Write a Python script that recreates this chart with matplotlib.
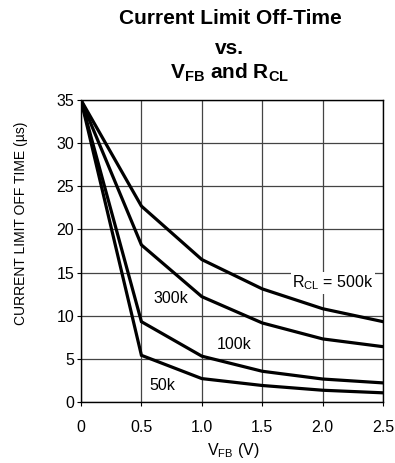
import matplotlib.pyplot as plt

plt.rcParams['font.family'] = ['Liberation Sans', 'DejaVu Sans']
plt.rcParams['mathtext.fontset'] = 'custom'
plt.rcParams['mathtext.rm'] = 'Liberation Sans'
plt.rcParams['mathtext.bf'] = 'Liberation Sans:bold'

# data
vfb = [0, 0.5, 1.0, 1.5, 2.0, 2.5]
t_500k = [35, 22.7, 16.5, 13.1, 10.8, 9.3]
t_300k = [35, 18.2, 12.2, 9.15, 7.3, 6.4]
t_100k = [35, 9.3, 5.3, 3.55, 2.65, 2.2]
t_50k = [35, 5.4, 2.7, 1.9, 1.35, 1.05]

xticks = [0, 0.5, 1.0, 1.5, 2.0, 2.5]
xticklabels = ['0', '0.5', '1.0', '1.5', '2.0', '2.5']
yticks = [0, 5, 10, 15, 20, 25, 30, 35]

fig = plt.figure(figsize=(3.95, 4.63), dpi=100)
ax = fig.add_axes([0.205, 0.132, 0.765, 0.652])

for t in [t_500k, t_300k, t_100k, t_50k]:
    ax.plot(vfb, t, color='black', linewidth=2.3, solid_joinstyle='miter', zorder=3)

ax.set_xlim(0, 2.5)
ax.set_ylim(0, 35)
ax.set_xticks(xticks)
ax.set_xticklabels(xticklabels)
ax.set_yticks(yticks)
ax.tick_params(labelsize=11.5, length=3, width=0.8, direction='out')
ax.tick_params(axis='x', pad=10)
ax.tick_params(axis='y', pad=2)
ax.grid(True, color='#444444', linewidth=0.9)
for s in ax.spines.values():
    s.set_linewidth(1.0)

ax.text(1.75, 13.8, r'R$_{\mathregular{CL}}$ = 500k', fontsize=11.5, ha='left', va='center',
        bbox=dict(facecolor='white', edgecolor='none', pad=1), zorder=4)
ax.text(0.6, 12.0, '300k', fontsize=11.5, ha='left', va='center')
ax.text(1.125, 6.7, '100k', fontsize=11.5, ha='left', va='center')
ax.text(0.57, 1.85, '50k', fontsize=11.5, ha='left', va='center')

fig.text(0.052, 0.518, 'CURRENT LIMIT OFF TIME (\u00b5s)', fontsize=10, rotation=90,
         ha='center', va='center')
fig.text(0.59, 0.028, r'V$_{\mathregular{FB}}$ (V)', fontsize=11.5, ha='center', va='center')

fig.text(0.582, 0.961, 'Current Limit Off-Time', fontsize=15, fontweight='bold',
         ha='center', va='center')
fig.text(0.582, 0.896, 'vs.', fontsize=15, fontweight='bold', ha='center', va='center')
fig.text(0.582, 0.842, r'V$_{\mathbf{FB}}$ and R$_{\mathbf{CL}}$', fontsize=15,
         fontweight='bold', ha='center', va='center')

fig.savefig('out.png', dpi=100)
